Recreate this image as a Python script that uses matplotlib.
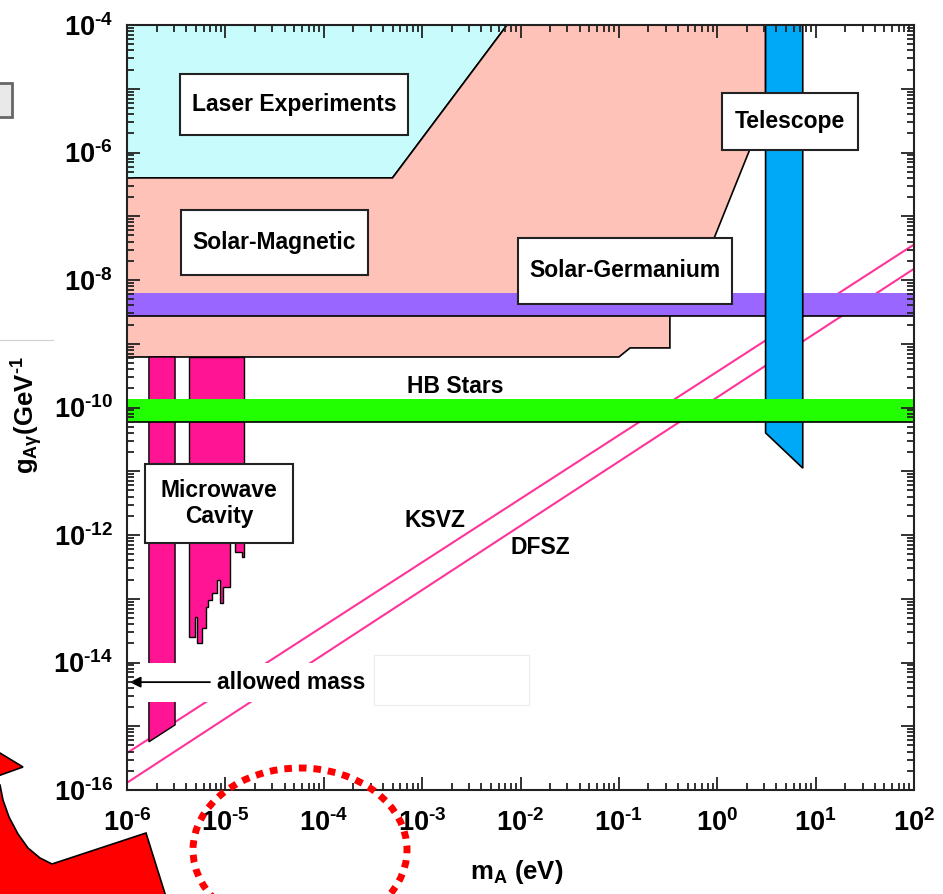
import numpy as np
import matplotlib
matplotlib.use('Agg')
import matplotlib.pyplot as plt
from matplotlib.patches import Polygon, Rectangle, Ellipse
from matplotlib.lines import Line2D
from matplotlib.ticker import LogLocator, FuncFormatter, NullFormatter

plt.rcParams['font.family'] = ['Liberation Sans', 'DejaVu Sans']
plt.rcParams['mathtext.fontset'] = 'custom'
plt.rcParams['mathtext.rm'] = 'Liberation Sans:bold'
plt.rcParams['mathtext.bf'] = 'Liberation Sans:bold'
plt.rcParams['mathtext.default'] = 'regular'

# excluded regions, axion mass m_A (eV) vs coupling g_Agamma (GeV^-1)
laser_m = [1e-6, 1e-6, 5e-4, 7.3e-3]
laser_g = [1e-4, 4e-7, 4e-7, 1e-4]

solar_mag_m = [1e-6, 5e-4, 7.3e-3, 3.1, 3.1, 0.52, 0.33, 0.33, 0.13, 0.10, 1e-6]
solar_mag_g = [4e-7, 4e-7, 1e-4, 1e-4, 4.6e-6, 4.9e-9, 4.1e-9, 8.6e-10, 8.6e-10, 6.2e-10, 6.2e-10]

solar_ge_g = (2.7e-9, 6.3e-9)
hb_stars_g = (5.9e-11, 1.36e-10)

telescope_m = [3.1, 7.4, 7.4, 3.1]
telescope_g = [1e-4, 1e-4, 1.12e-11, 4e-11]

cavity1_m = [1.67e-6, 3.08e-6, 3.08e-6, 1.67e-6]
cavity1_g = [6.2e-10, 6.2e-10, 1.05e-15, 5.7e-16]

cavity2_m = [4.27e-6, 1.55e-5, 1.55e-5, 1.47e-5, 1.47e-5, 1.25e-5, 1.25e-5,
             1.11e-5, 1.11e-5, 9.46e-6, 9.46e-6, 8.81e-6, 8.81e-6, 8.22e-6,
             8.22e-6, 7.31e-6, 7.31e-6, 6.66e-6, 6.66e-6, 6.35e-6, 6.35e-6,
             5.78e-6, 5.78e-6, 5.15e-6, 5.15e-6, 4.91e-6, 4.91e-6, 4.27e-6]
cavity2_g = [6.2e-10, 6.2e-10, 4.5e-13, 4.5e-13, 5.4e-13, 5.4e-13, 8.35e-13,
             8.35e-13, 1.53e-13, 1.53e-13, 8.6e-14, 8.6e-14, 1.97e-13, 1.97e-13,
             1.23e-13, 1.23e-13, 9.5e-14, 9.5e-14, 7.4e-14, 7.4e-14, 3.5e-14,
             3.5e-14, 2.0e-14, 2.0e-14, 5.2e-14, 5.2e-14, 2.5e-14, 2.5e-14]

model_m = [1e-6, 1e2]
ksvz_g = [3.8e-16, 3.6e-8]
dfsz_g = [1.3e-16, 1.5e-8]

W, H = 943, 894
fig = plt.figure(figsize=(W / 100, H / 100), dpi=100)
ax = fig.add_axes([127 / W, 1 - 790 / H, 787 / W, 765 / H])
ax.set_xscale('log')
ax.set_yscale('log')
ax.set_xlim(1e-6, 1e2)
ax.set_ylim(1e-16, 1e-4)

ax.fill(laser_m, laser_g, fc='#c8fbfb', ec='k', lw=1.2, zorder=1)
ax.fill(solar_mag_m, solar_mag_g, fc='#ffc2b8', ec='k', lw=1.2, zorder=1.1)
ax.plot(model_m, ksvz_g, color='#ff3399', lw=1.5, zorder=2)
ax.plot(model_m, dfsz_g, color='#ff3399', lw=1.5, zorder=2)
ax.fill(cavity1_m, cavity1_g, fc='#ff1493', ec='k', lw=1.0, zorder=3)
ax.fill(cavity2_m, cavity2_g, fc='#ff1493', ec='k', lw=1.0, zorder=3)
ax.axhspan(*solar_ge_g, color='#9966ff', lw=0, zorder=4)
ax.axhline(solar_ge_g[0], color='k', lw=1.2, zorder=4)
ax.fill(telescope_m, telescope_g, fc='#00a8f8', ec='k', lw=1.2, zorder=5)
ax.axhspan(*hb_stars_g, color='#22ff00', lw=0, zorder=6)
ax.axhline(hb_stars_g[0], color='k', lw=1.2, zorder=6)

# white strip behind the "allowed mass" note
ax.add_patch(Rectangle((0.025, 0.115), 0.486, 0.051, transform=ax.transAxes,
                       fc='white', ec='none', zorder=7))
ax.add_patch(Rectangle((0.314, 0.111), 0.197, 0.065, transform=ax.transAxes,
                       fc='white', ec='#ececec', lw=0.8, zorder=7))


def label_box(x0, y0, x1, y1, text):
    ax.add_patch(Rectangle((x0, y0), x1 - x0, y1 - y0, transform=ax.transAxes,
                           fc='white', ec='#222222', lw=1.5, zorder=14))
    ax.text((x0 + x1) / 2, (y0 + y1) / 2, text, transform=ax.transAxes,
            ha='center', va='center', fontsize=16.5, fontweight='bold',
            linespacing=1.15, zorder=15)


label_box(0.0673, 0.856, 0.357, 0.936, 'Laser Experiments')
label_box(0.0686, 0.673, 0.306, 0.758, 'Solar-Magnetic')
label_box(0.497, 0.635, 0.769, 0.722, 'Solar-Germanium')
label_box(0.756, 0.837, 0.929, 0.911, 'Telescope')
label_box(0.0229, 0.323, 0.211, 0.426, 'Microwave\nCavity')

txt = dict(transform=ax.transAxes, fontsize=16.5, fontweight='bold', zorder=15)
ax.text(0.417, 0.527, 'HB Stars', ha='center', va='center', **txt)
ax.text(0.391, 0.352, 'KSVZ', ha='center', va='center', **txt)
ax.text(0.525, 0.317, 'DFSZ', ha='center', va='center', **txt)
ax.text(0.114, 0.141, 'allowed mass', ha='left', va='center', **txt)
ax.annotate('', xy=(0.0, 0.141), xytext=(0.109, 0.141), xycoords='axes fraction',
            arrowprops=dict(arrowstyle='-|>', color='k', lw=1.3, mutation_scale=16),
            zorder=15)

ax.xaxis.set_major_locator(LogLocator(base=10, numticks=30))
ax.yaxis.set_major_locator(LogLocator(base=10, numticks=30))
ax.xaxis.set_minor_locator(LogLocator(base=10, subs=np.arange(2, 10), numticks=30))
ax.yaxis.set_minor_locator(LogLocator(base=10, subs=np.arange(2, 10), numticks=30))
ax.xaxis.set_minor_formatter(NullFormatter())
ax.yaxis.set_minor_formatter(NullFormatter())


def fmt_x(v, pos):
    return r'$\mathregular{10^{\text{-}%d}}$' % abs(int(round(np.log10(v)))) \
        if v < 1 else r'$\mathregular{10^{%d}}$' % int(round(np.log10(v)))


def fmt_y(v, pos):
    e = int(round(np.log10(v)))
    return r'$\mathregular{10^{\text{-}%d}}$' % abs(e) if e % 2 == 0 else ''


ax.xaxis.set_major_formatter(FuncFormatter(fmt_x))
ax.yaxis.set_major_formatter(FuncFormatter(fmt_y))
ax.tick_params(which='both', direction='in', top=True, right=True, width=1.3,
               color='#222222', labelsize=19.5)
ax.tick_params(axis='x', pad=14)
ax.tick_params(axis='y', pad=10)
ax.tick_params(which='major', length=9.5)
ax.tick_params(which='minor', length=5)
for lab in ax.get_xticklabels() + ax.get_yticklabels():
    lab.set_fontfamily(['Liberation Sans Narrow', 'Liberation Sans'])
    lab.set_fontweight('bold')
for sp in ax.spines.values():
    sp.set_linewidth(1.5)
    sp.set_color('#222222')
    sp.set_zorder(20)
ax.xaxis.set_zorder(20)
ax.yaxis.set_zorder(20)

fig.text(27 / W, 1 - 415 / H, r'$\mathregular{g_{A\gamma}(GeV^{\text{-}1}}$', rotation=90,
         ha='center', va='center', fontsize=18.5, fontweight='bold')
fig.text(517 / W, 1 - 872 / H, r'$\mathregular{m_A}$ (eV)', ha='center',
         va='center', fontsize=18.5, fontweight='bold')


# slide overlays around the figure
def fp(x, y):
    return (x / W, 1 - y / H)


fig.add_artist(Polygon([fp(-5, 750), fp(23, 767), fp(-5, 777)], closed=True,
                       transform=fig.transFigure, fc='red', ec='black', lw=1.2))
fig.add_artist(Polygon([fp(-5, 785), fp(0, 785), fp(3, 800), fp(9, 817), fp(18, 834),
                        fp(28, 848), fp(40, 858), fp(52, 864), fp(146, 833),
                        fp(167, 900), fp(-5, 900)], closed=True,
                       transform=fig.transFigure, fc='red', ec='black', lw=1.2))
fig.add_artist(Ellipse(fp(300, 850), 214 / W, 164 / H, transform=fig.transFigure,
                       fill=False, ec='red', lw=5, linestyle=(0, (1.1, 1.0))))
fig.add_artist(Rectangle(fp(-12, 117), 24 / W, 34 / H, transform=fig.transFigure,
                         fc='#e9e9e9', ec='#666666', lw=2))
fig.add_artist(Line2D([0, 53 / W], [1 - 340 / H] * 2, transform=fig.transFigure,
                      color='#d0d0d0', lw=0.8))

fig.savefig('out.png', dpi=100)
